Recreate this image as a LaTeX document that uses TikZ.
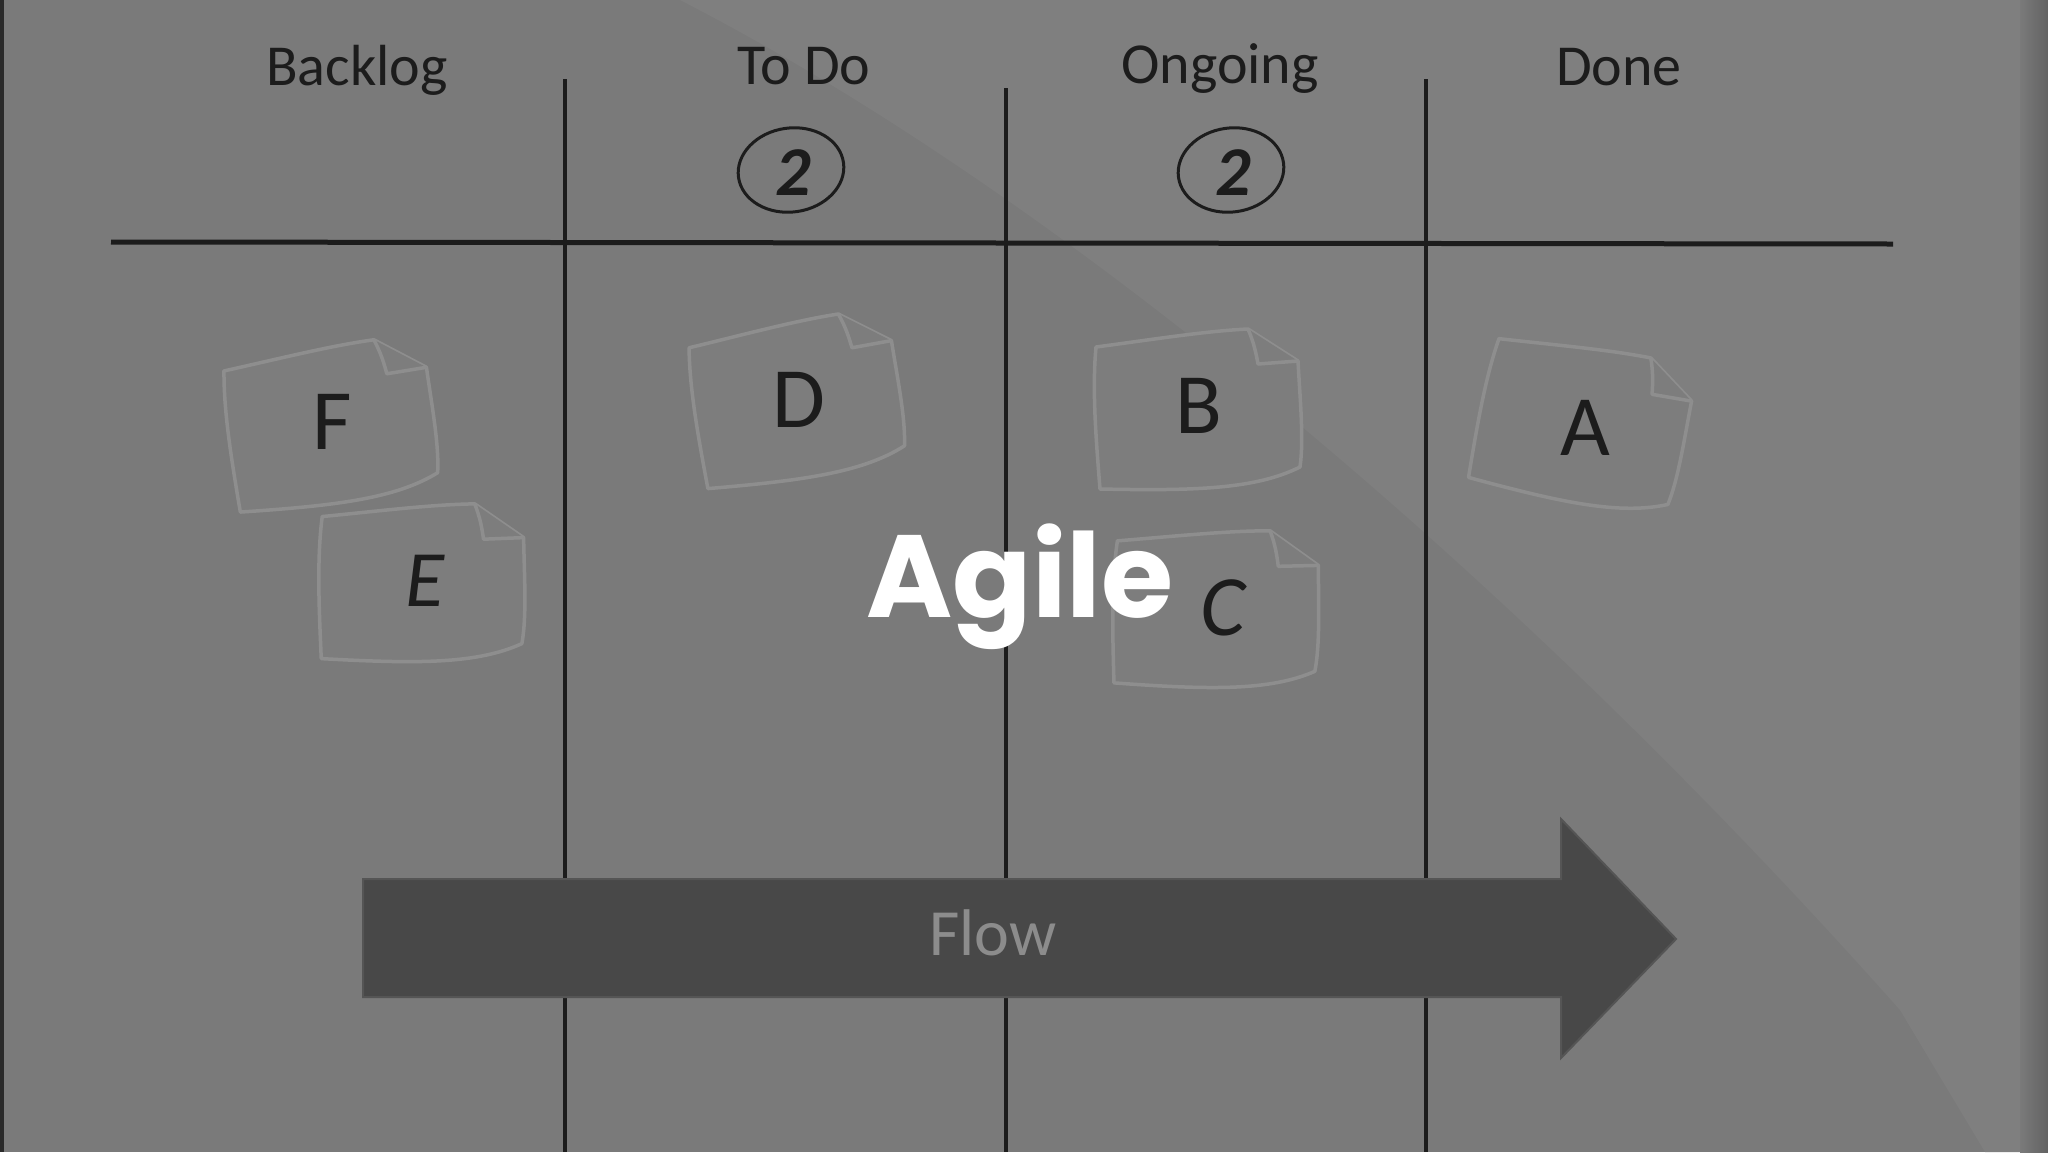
\documentclass[tikz,border=0pt]{standalone}
\usepackage{fontspec}
\setmainfont{Carlito}
\newfontfamily\handfont{Carlito}
\newfontfamily\popfont{Poppins}
\definecolor{bg}{HTML}{7A7A7A}
\definecolor{bglight}{HTML}{7F7F7F}
\definecolor{edgedark}{HTML}{747474}
\definecolor{ink}{HTML}{1C1C1C}
\definecolor{notefill}{HTML}{7D7D7D}
\definecolor{noteline}{HTML}{8E8E8E}
\definecolor{arrowfill}{HTML}{484848}
\definecolor{arrowline}{HTML}{555555}
\definecolor{flowtext}{HTML}{8C8C8C}
\tikzset{
  boardline/.style={draw=ink, line width=4pt},
  header/.style={anchor=base, inner sep=0pt, text=ink, font=\handfont\fontsize{58}{60}\selectfont},
  letter/.style={inner sep=0pt, text=ink, font=\handfont\fontsize{86}{88}\selectfont},
  limit/.style={inner sep=0pt, text=ink, font=\handfont\bfseries\itshape\fontsize{70}{72}\selectfont},
  limitring/.style={draw=ink, line width=3pt},
  notepaper/.style={fill=notefill, draw=noteline, line width=3.5pt, line join=round},
  pics/sticky/.style={code={
    \draw[notepaper] (-100,-62) .. controls (-40,-70) and (10,-78) .. (52,-80)
      -- (102,-48)
      .. controls (104,-10) and (108,30) .. (104,58)
      .. controls (60,80) and (0,82) .. (-96,80)
      .. controls (-100,30) and (-104,-20) .. cycle;
    \draw[notepaper] (52,-80) .. controls (58,-66) and (60,-56) .. (62,-45) -- (102,-48);
  }}
}
\begin{document}
\begin{tikzpicture}[x=1pt,y=-1pt]
\fill[bg] (0,0) rectangle (2048,1152);
\useasboundingbox (0,0) rectangle (2048,1152);
% soft light reflection
\fill[bglight] (680,0) .. controls (1050,190) and (1500,560) .. (1900,1010)
  -- (1985,1152) -- (2020,1152) -- (2020,0) -- cycle;
\shade[left color=bg, right color=edgedark!85!black] (2020,0) rectangle (2048,1152);
\fill[ink!85!bg] (0,0) rectangle (4,1152);

% board lines
\coordinate (v1t) at (565,79);   \coordinate (v1b) at (565,1152);
\coordinate (v2t) at (1006,88);  \coordinate (v2b) at (1006,1152);
\coordinate (v3t) at (1426,79);  \coordinate (v3b) at (1426,1152);
\coordinate (hl) at (111,242);   \coordinate (hr) at (1893,244);
\draw[boardline] (v1t) -- (v1b);
\draw[boardline] (v2t) -- (v2b);
\draw[boardline] (v3t) -- (v3b);
\draw[boardline, line width=5pt] (hl) -- (hr);

% headers
\node[header] (backlog) at (357,85) {Backlog};
\node[header] (todo) at (804,84) {To Do};
\node[header] (ongoing) at (1220,83) {Ongoing};
\node[header] (done) at (1619,85) {Done};

% WIP limits
\draw[limitring, rotate around={8:(791,170)}] (791,170) ellipse [x radius=53, y radius=42];
\node[limit] (lim1) at (793,173) {2};
\draw[limitring, rotate around={8:(1231,170)}] (1231,170) ellipse [x radius=53, y radius=42];
\node[limit] (lim2) at (1233,173) {2};

% sticky notes
\pic[rotate=5] at (329,424) {sticky};
\node[letter] (F) at (332,422) {F};
\pic[rotate=-2] at (420,582) {sticky};
\node[letter, font=\handfont\itshape\fontsize{80}{82}\selectfont] (E) at (425,581) {E};
\pic[rotate=6] at (795,399) {sticky};
\node[letter] (D) at (799,400) {D};
\pic[rotate=0] at (1196,409) {sticky};
\node[letter] (B) at (1199,406) {B};
\pic[rotate=-14] at (1581,423) {sticky};
\node[letter] (A) at (1585,428) {A};
\pic[rotate=-3] at (1214,608) {sticky};
\node[letter, font=\handfont\itshape\fontsize{86}{88}\selectfont] (C) at (1223,608) {C};

% flow arrow
\filldraw[fill=arrowfill, draw=arrowline, line width=2pt, line join=miter]
  (363,879) -- (1561,879) -- (1561,819) -- (1676,939) -- (1561,1058) -- (1561,997) -- (363,997) -- cycle;
\node[anchor=base, inner sep=0pt, text=flowtext, font=\handfont\fontsize{66}{68}\selectfont] (flow) at (993,955) {Flow};

% title
\node[anchor=base, inner sep=0pt, text=white, font=\popfont\bfseries\fontsize{117}{120}\selectfont] (agile) at (1020,617) {Agile};
\end{tikzpicture}
\end{document}
